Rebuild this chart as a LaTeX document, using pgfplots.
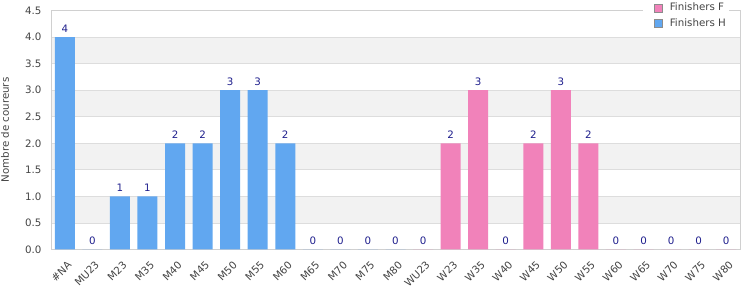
\documentclass[border=0pt]{standalone}
\usepackage{pgfplots}
\pgfplotsset{compat=1.18}
\usepackage{fontspec}
\setmainfont{DejaVu Sans}
\definecolor{barH}{RGB}{97,167,240}
\definecolor{barF}{RGB}{241,130,186}
\definecolor{lbl}{RGB}{30,30,140}
\definecolor{tickc}{RGB}{68,68,68}
\definecolor{band}{RGB}{242,242,242}
\definecolor{gridc}{RGB}{221,221,221}
\definecolor{framec}{RGB}{208,208,208}
\pgfplotstableread{
x y
0 4
1 0
2 1
3 1
4 2
5 2
6 3
7 3
8 2
9 0
10 0
11 0
12 0
}\dataH
\pgfplotstableread{
x y
13 0
14 2
15 3
16 0
17 2
18 3
19 2
20 0
21 0
22 0
23 0
24 0
}\dataF
\begin{document}
\begin{tikzpicture}[font=\fontsize{10.3}{12}\selectfont]
\begin{axis}[
  set layers,
  at={(51bp,50.5bp)}, anchor=south west,
  scale only axis, width=689bp, height=239bp,
  xmin=-0.5, xmax=24.5, ymin=0, ymax=4.5,
  xtick={0,...,24},
  xticklabels={\#NA,MU23,M23,M35,M40,M45,M50,M55,M60,M65,M70,M75,M80,WU23,W23,W35,W40,W45,W50,W55,W60,W65,W70,W75,W80},
  ytick={0,0.5,...,4.5},
  yticklabel={\pgfmathprintnumber[fixed,fixed zerofill,precision=1]{\tick}},
  /pgf/number format/assume math mode=true,
  major tick length=0pt,
  tick style={draw=none},
  ymajorgrids, grid style={gridc, line width=0.8pt},
  axis line style={framec, line width=0.8pt},
  xticklabel style={rotate=45, anchor=north east, text=tickc, inner sep=1pt, xshift=-5bp, yshift=-8bp},
  yticklabel style={text=tickc, xshift=-6bp},
  ylabel={Nombre de coureurs},
  ylabel style={at={(axis description cs:-0.0668,0.5)}, anchor=center, text=tickc},
  legend style={at={(axis description cs:0.8592,1.044)}, anchor=north west, fill=white, draw=none, row sep=2bp, inner xsep=11bp, inner ysep=1bp, font=\fontsize{10.3}{12}\selectfont, text=tickc, /tikz/every odd column/.append style={column sep=5bp}},
  legend cell align=left,
  legend image code/.code={\draw[#1, draw=gray!90, line width=0.6pt] (0bp,-4bp) rectangle (8bp,4bp);},
]
\addplot[fill=band, draw=none, forget plot, on layer=axis background] coordinates {(-0.5,0.5) (24.5,0.5) (24.5,1.0) (-0.5,1.0) (-0.5,0.5)};
\addplot[fill=band, draw=none, forget plot, on layer=axis background] coordinates {(-0.5,1.5) (24.5,1.5) (24.5,2.0) (-0.5,2.0) (-0.5,1.5)};
\addplot[fill=band, draw=none, forget plot, on layer=axis background] coordinates {(-0.5,2.5) (24.5,2.5) (24.5,3.0) (-0.5,3.0) (-0.5,2.5)};
\addplot[fill=band, draw=none, forget plot, on layer=axis background] coordinates {(-0.5,3.5) (24.5,3.5) (24.5,4.0) (-0.5,4.0) (-0.5,3.5)};
\addplot[ybar, bar width=20bp, bar shift=0pt, fill=barF, draw=none, nodes near coords, every node near coord/.append style={text=lbl, inner sep=2pt, yshift=2.5bp}] table[x=x,y=y] {\dataF};
\addlegendentry{\makebox[46bp][l]{Finishers F}}
\addplot[ybar, bar width=20bp, bar shift=0pt, fill=barH, draw=none, nodes near coords, every node near coord/.append style={text=lbl, inner sep=2pt, yshift=2.5bp}] table[x=x,y=y] {\dataH};
\addlegendentry{\makebox[46bp][l]{Finishers H}}
\end{axis}
\pgfresetboundingbox
\path[use as bounding box] (0,0) rectangle (750bp,300bp);
\end{tikzpicture}
\end{document}
